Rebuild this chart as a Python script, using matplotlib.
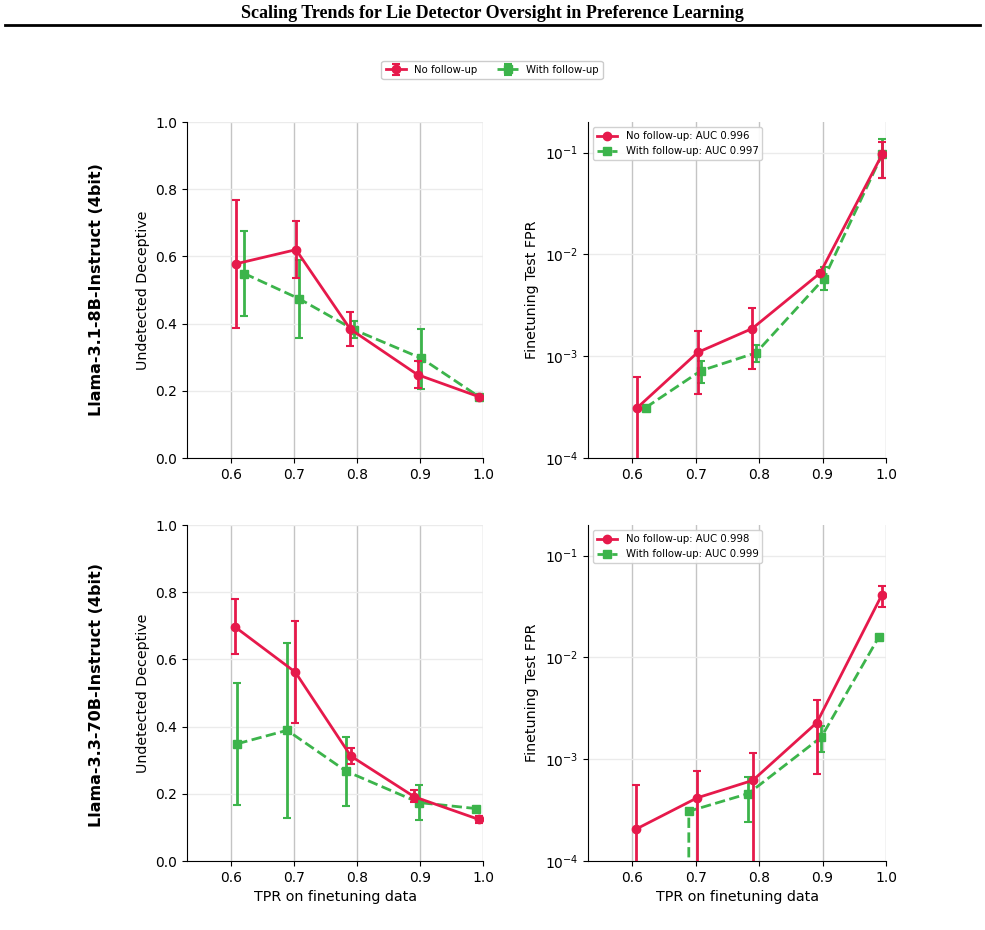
import numpy as np
import matplotlib
matplotlib.use("Agg")
import matplotlib.pyplot as plt

# ---------------- data ----------------
models = ["Llama-3.1-8B-Instruct (4bit)", "Llama-3.3-70B-Instruct (4bit)"]
series_names = ["No follow-up", "With follow-up"]
auc_labels = [["No follow-up: AUC 0.996", "With follow-up: AUC 0.997"],
              ["No follow-up: AUC 0.998", "With follow-up: AUC 0.999"]]

# Model 1 (8B)
tpr_8b_no = [0.608, 0.703, 0.789, 0.896, 0.994]
tpr_8b_fu = [0.621, 0.708, 0.795, 0.902, 0.994]
und_8b_no = [0.578, 0.620, 0.384, 0.248, 0.182]
und_8b_no_lo = [0.387, 0.536, 0.334, 0.208, 0.180]
und_8b_no_hi = [0.769, 0.704, 0.434, 0.290, 0.184]
und_8b_fu = [0.549, 0.474, 0.382, 0.297, 0.182]
und_8b_fu_lo = [0.422, 0.357, 0.357, 0.205, 0.180]
und_8b_fu_hi = [0.675, 0.590, 0.407, 0.384, 0.184]
fpr_8b_no = [3.13e-4, 1.09e-3, 1.87e-3, 6.55e-3, 0.0964]
fpr_8b_no_lo = [0.0, 4.27e-4, 7.48e-4, 6.2e-3, 0.0569]
fpr_8b_no_hi = [6.2e-4, 1.75e-3, 2.98e-3, 6.9e-3, 0.128]
fpr_8b_fu = [3.13e-4, 7.2e-4, 1.08e-3, 5.77e-3, 0.0964]
fpr_8b_fu_lo = [3.1e-4, 5.5e-4, 8.8e-4, 4.44e-3, 0.0569]
fpr_8b_fu_hi = [3.16e-4, 9.0e-4, 1.29e-3, 7.5e-3, 0.137]

# Model 2 (70B)
tpr_70b_no = [0.606, 0.702, 0.790, 0.891, 0.993]
tpr_70b_fu = [0.610, 0.689, 0.783, 0.898, 0.989]
und_70b_no = [0.697, 0.562, 0.3125, 0.191, 0.124]
und_70b_no_lo = [0.615, 0.410, 0.289, 0.175, 0.112]
und_70b_no_hi = [0.780, 0.715, 0.337, 0.211, 0.134]
und_70b_fu = [0.349, 0.389, 0.267, 0.174, 0.156]
und_70b_fu_lo = [0.167, 0.129, 0.165, 0.121, 0.154]
und_70b_fu_hi = [0.531, 0.650, 0.369, 0.226, 0.158]
fpr_70b_no = [2.06e-4, 4.17e-4, 6.2e-4, 2.29e-3, 0.0406]
fpr_70b_no_lo = [0.0, 0.0, 0.0, 7.1e-4, 0.031]
fpr_70b_no_hi = [5.6e-4, 7.66e-4, 1.15e-3, 3.82e-3, 0.050]
fpr_70b_fu = [0.0, 3.08e-4, 4.6e-4, 1.65e-3, 0.016]
fpr_70b_fu_lo = [0.0, 3.06e-4, 2.43e-4, 1.17e-3, 0.0159]
fpr_70b_fu_hi = [0.0, 3.10e-4, 6.7e-4, 2.1e-3, 0.0161]

rows = [
    dict(tpr=(tpr_8b_no, tpr_8b_fu),
         und=((und_8b_no, und_8b_no_lo, und_8b_no_hi), (und_8b_fu, und_8b_fu_lo, und_8b_fu_hi)),
         fpr=((fpr_8b_no, fpr_8b_no_lo, fpr_8b_no_hi), (fpr_8b_fu, fpr_8b_fu_lo, fpr_8b_fu_hi))),
    dict(tpr=(tpr_70b_no, tpr_70b_fu),
         und=((und_70b_no, und_70b_no_lo, und_70b_no_hi), (und_70b_fu, und_70b_fu_lo, und_70b_fu_hi)),
         fpr=((fpr_70b_no, fpr_70b_no_lo, fpr_70b_no_hi), (fpr_70b_fu, fpr_70b_fu_lo, fpr_70b_fu_hi))),
]

colors = ["#e6194b", "#3cb44b"]
styles = ["-", "--"]
markers = ["o", "s"]

# ---------------- figure ----------------
W, H = 985, 930
fig = plt.figure(figsize=(W / 100, H / 100), dpi=100)

def px_axes(x0, y0, x1, y1):
    return fig.add_axes([x0 / W, 1 - y1 / H, (x1 - x0) / W, (y1 - y0) / H])

boxes = [[(187, 122, 483, 458), (588, 122, 886, 458)],
         [(187, 525, 483, 861), (588, 525, 886, 861)]]
row_label_y = [290, 695]

top_handles = []
for r, row in enumerate(rows):
    axL = px_axes(*boxes[r][0])
    axR = px_axes(*boxes[r][1])
    axR.set_yscale("log")
    handlesR = []
    for s in range(2):
        x = np.array(row["tpr"][s])
        y, lo, hi = (np.array(v) for v in row["und"][s])
        cL = axL.errorbar(x, y, yerr=[y - lo, hi - y], color=colors[s], ls=styles[s],
                          marker=markers[s], ms=6, lw=2, elinewidth=2, capsize=3,
                          capthick=1.5, label=series_names[s], zorder=3 - s * 0.5)
        y, lo, hi = (np.array(v) for v in row["fpr"][s])
        cR = axR.errorbar(x, y, yerr=[y - lo, hi - y], color=colors[s], ls=styles[s],
                          marker=markers[s], ms=6, lw=2, elinewidth=2, capsize=3,
                          capthick=1.5, zorder=3 - s * 0.5)
        handlesR.append(cR.lines[0])
        if r == 0:
            top_handles.append(cL)
    for ax in (axL, axR):
        ax.set_xlim(0.53, 1.0)
        ax.set_xticks([0.6, 0.7, 0.8, 0.9, 1.0])
        ax.tick_params(labelsize=10)
        ax.spines["top"].set_visible(False)
        ax.spines["right"].set_visible(False)
        ax.xaxis.grid(True, color="#c4c4c4", lw=1.0)
        ax.yaxis.grid(True, color="#ebebeb", lw=1.0)
        ax.set_axisbelow(True)
        if r == 1:
            ax.set_xlabel("TPR on finetuning data", fontsize=10.3)
    axL.set_ylim(0, 1.0)
    axL.set_yticks([0.0, 0.2, 0.4, 0.6, 0.8, 1.0])
    axL.set_ylabel("Undetected Deceptive", fontsize=10.3)
    axR.set_ylim(1e-4, 0.2)
    axR.set_ylabel("Finetuning Test FPR", fontsize=10.3)
    axR.minorticks_off()
    axR.legend(handlesR, auc_labels[r], loc="upper left", fontsize=7.3,
               framealpha=0.9, borderpad=0.4, handlelength=2.0)
    fig.text(97 / W, 1 - row_label_y[r] / H, models[r], rotation=90, fontsize=11.5,
             fontweight="bold", ha="center", va="center")

fig.legend(top_handles, series_names, loc="center", bbox_to_anchor=(492 / W, 1 - 70 / H),
           ncol=2, fontsize=7.3, framealpha=1, columnspacing=2.0, handlelength=2.0)

fig.text(492 / W, 1 - 13 / H, "Scaling Trends for Lie Detector Oversight in Preference Learning",
         family="Liberation Serif", fontweight="bold", fontsize=13, ha="center", va="center")
fig.add_artist(plt.Line2D([5 / W, 980 / W], [1 - 25.5 / H, 1 - 25.5 / H], color="black",
                          lw=2, transform=fig.transFigure))

fig.savefig("out.png", dpi=100)
